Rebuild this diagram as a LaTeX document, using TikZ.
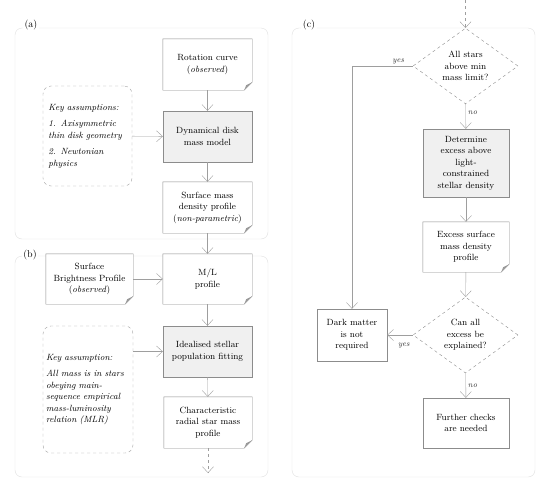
\documentclass[tikz,border=0pt]{standalone}
\usetikzlibrary{arrows.meta,shapes.geometric}
\definecolor{linegray}{gray}{0.62}
\definecolor{boxgray}{gray}{0.55}
\definecolor{framegray}{gray}{0.88}
\definecolor{fillgray}{gray}{0.94}
\definecolor{foldgray}{gray}{0.6}
\tikzset{
  base/.style = {align = center, inner sep = 2pt, text = black, font = \fontsize{9}{11.5}\selectfont},
  docbox/.style = {base, fill = white, minimum width = 89pt, minimum height = 51pt},
  procbox/.style = {base, draw = boxgray, fill = fillgray, minimum width = 89pt, minimum height = 51pt},
  plainbox/.style = {base, draw = boxgray, fill = white, minimum width = 86pt, minimum height = 51pt},
  notebox/.style = {base, align = left, draw = boxgray!80, dashed, rounded corners = 8pt, minimum width = 89pt},
  decision/.style = {base, diamond, draw = boxgray, dashed, inner sep = 0pt, minimum width = 105pt, minimum height = 75pt},
  flow/.style = {draw = linegray, -{Straight Barb[length = 6pt, width = 11pt]}},
  panel/.style = {draw = framegray, rounded corners = 7pt},
  tag/.style = {fill = white, inner sep = 1.5pt, text = black, font = \fontsize{10}{12}\selectfont},
  yn/.style = {inner sep = 2pt, text = black!80, font = \fontsize{8}{10}\selectfont\itshape}
}
\begin{document}
\begin{tikzpicture}[x = 1pt, y = -1pt]
\pgfmathsetmacro\fold{8};
\useasboundingbox[fill = white] (0,0) rectangle (550,488);
\draw[panel] (15,28) rectangle (268,239);
\draw[panel] (15,256) rectangle (268,477);
\draw[panel] (292,28) rectangle (535,477);
\node[tag] (taga) at (31,25) {(a)};
\node[tag] (tagb) at (30,255) {(b)};
\node[tag] (tagc) at (309,25) {(c)};
% panel (a)
\node[docbox] (rot) at (207.5,64.5) {Rotation curve\\(\textit{observed})};
\node[procbox] (dyn) at (207.5,136.5) {Dynamical disk\\mass model};
\node[docbox] (smd) at (207.5,207.5) {Surface mass\\density profile\\(\textit{non-parametric})};
\node[notebox, minimum height = 100pt, text width = 78pt] (keya) at (87.5,136) {\itshape Key assumptions:\\[5pt] \itshape 1. Axisymmetric\\\itshape thin disk geometry\\[5pt] \itshape 2. Newtonian\\\itshape physics};
% panel (b)
\node[docbox, minimum width = 87pt, minimum height = 50pt] (sbp) at (89.5,279) {Surface\\Brightness Profile\\(\textit{observed})};
\node[docbox, minimum height = 50pt] (ml) at (207.5,279) {M/L\\profile};
\node[procbox] (fit) at (207.5,351.5) {Idealised stellar\\population fitting};
\node[docbox, minimum width = 88pt] (crm) at (208,422.5) {Characteristic\\radial star mass\\profile};
\node[notebox, minimum width = 90pt, minimum height = 127pt, text width = 84pt] (keyb) at (88,389.5) {\itshape Key assumption:\\[5pt] \itshape All mass is in stars\\\itshape obeying main-\\\itshape sequence empirical\\\itshape mass-luminosity\\\itshape relation (MLR)};
% panel (c)
\node[decision] (q1) at (465.5,66) {All stars\\above min\\mass limit?};
\node[procbox, minimum width = 86pt, minimum height = 68pt] (det) at (466,163) {Determine\\excess above\\light-\\constrained\\stellar density};
\node[docbox, minimum width = 86pt, minimum height = 50pt] (esm) at (466,247) {Excess surface\\mass density\\profile};
\node[decision, minimum height = 76pt] (q2) at (465.5,335) {Can all\\excess be\\explained?};
\node[plainbox, minimum width = 70pt, minimum height = 52pt] (dm) at (352,335) {Dark matter\\is not\\required};
\node[plainbox, minimum height = 50pt] (fc) at (466,423) {Further checks\\are needed};
% folded corners
\foreach \n in {rot,smd,sbp,ml,crm,esm}
{
  \draw[boxgray] (\n.north west) -- (\n.north east) -- ([yshift = \fold pt]\n.south east) -- ([xshift = -\fold pt]\n.south east) -- (\n.south west) -- cycle;
  \fill[foldgray] ([yshift = \fold pt]\n.south east) -- ([xshift = -\fold pt]\n.south east) -- ([xshift = -6pt, yshift = 5pt]\n.south east) -- cycle;
}
\coordinate (intop) at (465.5,0);
\coordinate (outbot) at (208,473);
\draw[flow] (rot) -- (dyn);
\draw[flow] (keya) -- (dyn);
\draw[flow] (dyn) -- (smd);
\draw[flow] (smd) -- (ml);
\draw[flow] (sbp) -- (ml);
\draw[flow] (ml) -- (fit);
\draw[flow] (keyb.east |- fit) -- (fit);
\draw[flow] (fit) -- (crm);
\draw[flow, dashed] (crm) -- (outbot);
\draw[flow, dashed] (intop) -- (q1);
\draw[flow] (q1.west) -| (dm.north) node[yn, pos = 0.12, above] {yes};
\draw[flow] (q1) -- (det) node[yn, pos = 0.35, right] {no};
\draw[flow] (det) -- (esm);
\draw[flow] (esm) -- (q2);
\draw[flow] (q2) -- (dm) node[yn, pos = 0.35, below = 6pt] {yes};
\draw[flow] (q2) -- (fc) node[yn, pos = 0.5, right] {no};
\end{tikzpicture}
\end{document}
